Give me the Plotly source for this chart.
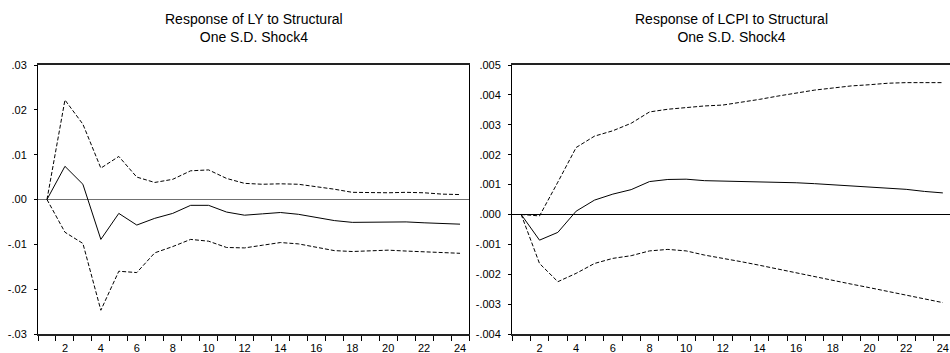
import plotly.graph_objects as go

periods = list(range(1, 25))

# Left panel: Response of LY to Structural One S.D. Shock4
ly_resp = [0.0, 0.0074, 0.0034, -0.0089, -0.0031, -0.0057, -0.0042, -0.0031, -0.0013, -0.0013,
           -0.0028, -0.0035, -0.0032, -0.0029, -0.0033, -0.0040, -0.0047, -0.0051, -0.0051, -0.0050,
           -0.0050, -0.0052, -0.0054, -0.0055]
ly_upper = [0.0, 0.0222, 0.0168, 0.0070, 0.0096, 0.0050, 0.0038, 0.0045, 0.0064, 0.0066,
            0.0047, 0.0036, 0.0034, 0.0035, 0.0034, 0.0029, 0.0023, 0.0016, 0.0015, 0.0015,
            0.0016, 0.0015, 0.0012, 0.0011]
ly_lower = [0.0, -0.0073, -0.0098, -0.0247, -0.0160, -0.0163, -0.0119, -0.0105, -0.0089, -0.0093,
            -0.0107, -0.0108, -0.0102, -0.0096, -0.0099, -0.0107, -0.0114, -0.0116, -0.0115, -0.0113,
            -0.0115, -0.0117, -0.0119, -0.0120]

# Right panel: Response of LCPI to Structural One S.D. Shock4
lcpi_resp = [0.0, -0.00086, -0.00060, 0.00011, 0.00048, 0.00068, 0.00083, 0.00110, 0.00117, 0.00118,
             0.00113, 0.00112, 0.00109, 0.00108, 0.00107, 0.00106, 0.00103, 0.00099, 0.00096, 0.00093,
             0.00089, 0.00084, 0.00077, 0.00072]
lcpi_upper = [0.0, -0.00005, 0.00108, 0.00224, 0.00262, 0.00280, 0.00305, 0.00343, 0.00352, 0.00358,
              0.00363, 0.00366, 0.00375, 0.00385, 0.00396, 0.00407, 0.00416, 0.00423, 0.00430, 0.00434,
              0.00439, 0.00441, 0.00441, 0.00441]
lcpi_lower = [0.0, -0.00164, -0.00225, -0.00197, -0.00164, -0.00147, -0.00138, -0.00122, -0.00117, -0.00122,
              -0.00136, -0.00146, -0.00158, -0.00170, -0.00183, -0.00195, -0.00208, -0.00220, -0.00233, -0.00245,
              -0.00258, -0.00270, -0.00283, -0.00295]

x_labels = [2, 4, 6, 8, 10, 12, 14, 16, 18, 20, 22, 24]
x_bounds = [p + 0.5 for p in range(0, 25)]

ly_ticks = [0.03, 0.02, 0.01, 0.0, -0.01, -0.02, -0.03]
ly_ticktext = [".03", ".02", ".01", ".00", "-.01", "-.02", "-.03"]
lcpi_ticks = [0.005, 0.004, 0.003, 0.002, 0.001, 0.0, -0.001, -0.002, -0.003, -0.004]
lcpi_ticktext = [".005", ".004", ".003", ".002", ".001", ".000", "-.001", "-.002", "-.003", "-.004"]

titles = ["Response of LY to Structural<br>One S.D. Shock4",
          "Response of LCPI to Structural<br>One S.D. Shock4"]

W, H = 950, 353
FONT = "Arial, Liberation Sans, sans-serif"

fig = go.Figure()

def add_panel(xa, ya, resp, up, lo):
    fig.add_trace(go.Scatter(x=periods, y=up, mode="lines", xaxis=xa, yaxis=ya,
                             line=dict(color="black", width=1, dash="4px,2px"), showlegend=False))
    fig.add_trace(go.Scatter(x=periods, y=lo, mode="lines", xaxis=xa, yaxis=ya,
                             line=dict(color="black", width=1, dash="4px,2px"), showlegend=False))
    fig.add_trace(go.Scatter(x=periods, y=resp, mode="lines", xaxis=xa, yaxis=ya,
                             line=dict(color="black", width=1), showlegend=False))

add_panel("x", "y", ly_resp, ly_upper, ly_lower)
add_panel("x2", "y2", lcpi_resp, lcpi_upper, lcpi_lower)

dom1 = [38 / W, 469 / W]
dom2 = [512 / W, 1.0]

xcommon = dict(
    tickmode="array", tickvals=x_labels, ticktext=[str(v) for v in x_labels],
    ticks="", showgrid=False, zeroline=False,
    showline=True, linecolor="#222222", linewidth=2, mirror=True,
    tickfont=dict(family=FONT, size=11, color="black"),
    minor=dict(tickmode="array", tickvals=x_bounds, ticks="outside", ticklen=5,
               tickcolor="black", tickwidth=1, showgrid=False),
    ticklabelstandoff=3,
)

fig.update_layout(
    width=W, height=H,
    margin=dict(l=0, r=0, t=65, b=19),
    paper_bgcolor="white", plot_bgcolor="white",
    font=dict(family=FONT, size=11, color="black"),
    xaxis=dict(domain=dom1, range=[0.5, 24.5], anchor="y", **xcommon),
    xaxis2=dict(domain=dom2, range=[0.5, 24.39], anchor="y2", **xcommon),
    yaxis=dict(domain=[0, 1], range=[-0.03, 0.03], anchor="x",
               tickmode="array", tickvals=ly_ticks, ticktext=ly_ticktext,
               ticks="outside", ticklen=3, tickcolor="black",
               showgrid=False, zeroline=True, zerolinecolor="#707070", zerolinewidth=1,
               showline=True, linecolor="black", linewidth=1, mirror=True,
               tickfont=dict(family=FONT, size=11, color="black"), ticklabelstandoff=5),
    yaxis2=dict(domain=[0, 1], range=[-0.004, 0.005], anchor="x2",
                tickmode="array", tickvals=lcpi_ticks, ticktext=lcpi_ticktext,
                ticks="outside", ticklen=3, tickcolor="black",
                showgrid=False, zeroline=True, zerolinecolor="black", zerolinewidth=1,
                showline=True, linecolor="black", linewidth=1, mirror=False,
                tickfont=dict(family=FONT, size=11, color="black"), ticklabelstandoff=5),
)

for dom, t in zip([dom1, [512 / W, (512 + 24 * 18.33) / W]], titles):
    fig.add_annotation(text=t, xref="paper", yref="paper",
                       x=(dom[0] + dom[1]) / 2, y=1, yshift=37,
                       xanchor="center", yanchor="middle", showarrow=False,
                       font=dict(family=FONT, size=14, color="black"), align="center")

fig.write_html("out.html")
